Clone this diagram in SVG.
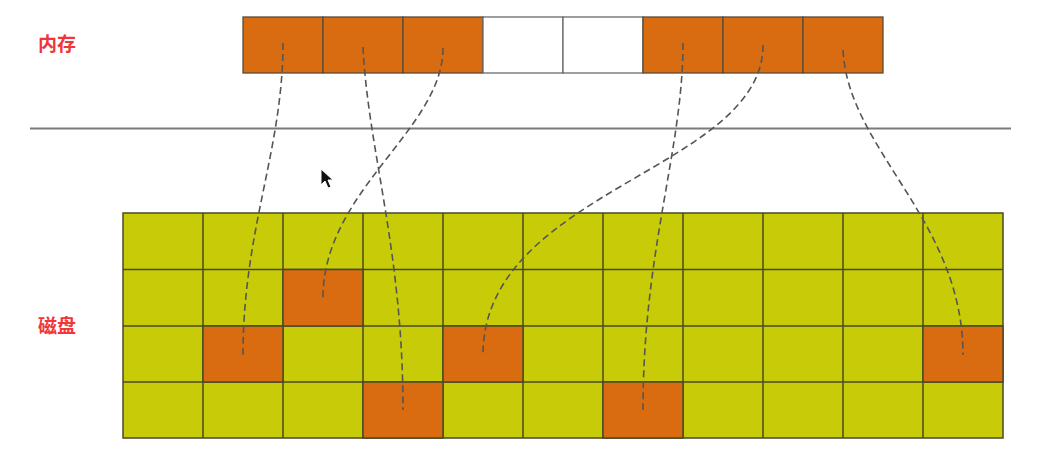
<svg xmlns="http://www.w3.org/2000/svg" width="1042" height="464" viewBox="0 0 1042 464">
<style>
.lbl{font-family:"Noto Sans CJK SC","Liberation Sans",sans-serif;font-size:19px;font-weight:bold;fill:#F0353D}
.mem{fill:#D96C10;stroke:#5a4a3a;stroke-width:1.3}
.free{fill:#ffffff;stroke:#6a6a6a;stroke-width:1.3}
.dk{fill:#C8CC08;stroke:#4a4a28;stroke-width:1.5}
.dko{fill:#D96C10;stroke:#4a4a28;stroke-width:1.5}
.link{fill:none;stroke:#555555;stroke-width:1.6;stroke-dasharray:7 4}
</style>
<rect width="1042" height="464" fill="#ffffff"/>
<text class="lbl" x="38" y="51">内存</text>
<text class="lbl" x="38" y="333">磁盘</text>
<line x1="30" y1="128.5" x2="1011" y2="128.5" stroke="#7a7a7a" stroke-width="1.8"/>
<g id="memory">
<rect class="mem" x="243" y="17" width="80" height="56"/>
<rect class="mem" x="323" y="17" width="80" height="56"/>
<rect class="mem" x="403" y="17" width="80" height="56"/>
<rect class="free" x="483" y="17" width="80" height="56"/>
<rect class="free" x="563" y="17" width="80" height="56"/>
<rect class="mem" x="643" y="17" width="80" height="56"/>
<rect class="mem" x="723" y="17" width="80" height="56"/>
<rect class="mem" x="803" y="17" width="80" height="56"/>
</g>
<g id="disk">
<rect class="dk" x="123" y="213" width="880" height="225"/>
<g stroke="#4a4a28" stroke-width="1.5">
<line x1="203" y1="213" x2="203" y2="438"/>
<line x1="283" y1="213" x2="283" y2="438"/>
<line x1="363" y1="213" x2="363" y2="438"/>
<line x1="443" y1="213" x2="443" y2="438"/>
<line x1="523" y1="213" x2="523" y2="438"/>
<line x1="603" y1="213" x2="603" y2="438"/>
<line x1="683" y1="213" x2="683" y2="438"/>
<line x1="763" y1="213" x2="763" y2="438"/>
<line x1="843" y1="213" x2="843" y2="438"/>
<line x1="923" y1="213" x2="923" y2="438"/>
<line x1="123" y1="269.5" x2="1003" y2="269.5"/>
<line x1="123" y1="326" x2="1003" y2="326"/>
<line x1="123" y1="382" x2="1003" y2="382"/>
</g>
<rect class="dko" x="283" y="269.5" width="80" height="56.5"/>
<rect class="dko" x="203" y="326" width="80" height="56"/>
<rect class="dko" x="443" y="326" width="80" height="56"/>
<rect class="dko" x="923" y="326" width="80" height="56"/>
<rect class="dko" x="363" y="382" width="80" height="56"/>
<rect class="dko" x="603" y="382" width="80" height="56"/>
</g>
<g id="connectors">
<path class="link" d="M283,43 C283,150 243,230 243,355"/>
<path class="link" d="M363,47 C368,150 403,250 403,410"/>
<path class="link" d="M443,48 C443,130 323,190 323,298"/>
<path class="link" d="M683,43 C683,150 643,250 643,410"/>
<path class="link" d="M763,45 C763,170 483,190 483,355"/>
<path class="link" d="M843,50 C848,150 963,220 963,355"/>
</g>
<path d="M321,169 L321,185 L325,181 L328,188 L331,187 L328,180 L333,180 Z" fill="#111111" stroke="#ffffff" stroke-width="1"/>
</svg>
